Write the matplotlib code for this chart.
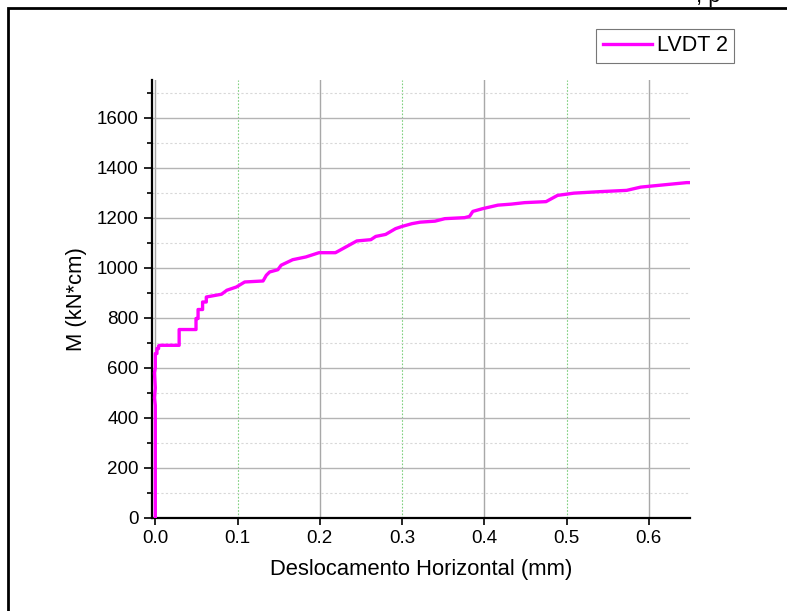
import matplotlib.pyplot as plt
from matplotlib.patches import Rectangle

plt.rcParams['font.family'] = ['Liberation Sans', 'DejaVu Sans']

# LVDT 2 curve: horizontal displacement (mm) vs moment (kN*cm)
desloc = [0.0, 0.0, -0.001, 0.0, -0.001, 0.0, 0.0, 0.002, 0.002, 0.004, 0.004, 0.006,
          0.029, 0.029, 0.0495, 0.0495, 0.052, 0.052, 0.0575, 0.0575, 0.062, 0.062,
          0.0805, 0.087, 0.0986, 0.1087, 0.131, 0.135, 0.139, 0.149, 0.153, 0.167,
          0.183, 0.199, 0.219, 0.245, 0.262, 0.268, 0.28, 0.292, 0.3, 0.312, 0.322,
          0.34, 0.352, 0.376, 0.382, 0.386, 0.398, 0.4165, 0.4326, 0.449, 0.475,
          0.489, 0.509, 0.541, 0.573, 0.59, 0.618, 0.646, 0.65]
momento = [0, 450, 480, 520, 580, 600, 657, 657, 677, 677, 688, 690,
           690, 753, 753, 797, 797, 833, 833, 863, 863, 883,
           894, 910, 923, 943, 947, 970, 983, 992, 1010, 1032,
           1043, 1060, 1060, 1107, 1112, 1125, 1133, 1156, 1165, 1176, 1182,
           1186, 1196, 1200, 1205, 1225, 1236, 1250, 1254, 1260, 1264,
           1289, 1298, 1304, 1309, 1322, 1331, 1340, 1340]

x_major = [0.0, 0.2, 0.4, 0.6]
x_minor = [0.1, 0.3, 0.5]

fig = plt.figure(figsize=(7.87, 6.11), dpi=100)
ax = fig.add_axes([152 / 787, 1 - 518 / 611, (690 - 152) / 787, (518 - 80) / 611])

ax.plot(desloc, momento, color='#ff00ff', lw=2.4, label='LVDT 2', zorder=3)

ax.set_xlim(-0.004, 0.65)
ax.set_ylim(0, 1750)

ax.set_xticks(x_major, labels=['%.1f' % v for v in x_major])
ax.set_xticks(x_minor, labels=['%.1f' % v for v in x_minor], minor=True)
ax.set_yticks(range(0, 1601, 200))
ax.set_yticks(range(100, 1701, 200), minor=True)

ax.tick_params(axis='both', which='both', direction='out', labelsize=13.5, width=1.2)
ax.tick_params(axis='x', which='both', length=5)
ax.tick_params(axis='y', which='major', length=6)
ax.tick_params(axis='y', which='minor', length=3.5)

ax.grid(axis='x', which='major', color='#a8a8a8', lw=1.0)
ax.grid(axis='x', which='minor', color='#7fd07f', lw=0.8, ls=(0, (1.5, 1.5)))
ax.grid(axis='y', which='major', color='#b4b4b4', lw=1.0)
ax.grid(axis='y', which='minor', color='#d8d8d8', lw=0.8, ls=(0, (2, 2)))
ax.set_axisbelow(True)

for s in ['top', 'right']:
    ax.spines[s].set_visible(False)
ax.spines['left'].set_linewidth(1.6)
ax.spines['bottom'].set_linewidth(1.6)

ax.set_xlabel('Deslocamento Horizontal (mm)', fontsize=15.8, labelpad=9)
ax.set_ylabel('M (kN*cm)', fontsize=15.8, labelpad=7)

leg = fig.legend(loc='upper right', bbox_to_anchor=(734 / 787, 1 - 29 / 611),
                 fontsize=15.5, frameon=True, fancybox=False, handlelength=2.3,
                 handletextpad=0.2, borderpad=0.3, borderaxespad=0)
leg.get_frame().set_edgecolor('#555555')
leg.get_frame().set_linewidth(0.8)

# outer frame of the original page, cut at the right and bottom
fig.patches.append(Rectangle((8 / 787, -0.2), 1.2, 1 - 8 / 611 + 0.2,
                             transform=fig.transFigure, fill=False,
                             edgecolor='black', lw=2))
fig.text(696 / 787, 1 - 2 / 611, ', p', fontsize=16, va='baseline', ha='left')

fig.savefig('out.png', dpi=100)
